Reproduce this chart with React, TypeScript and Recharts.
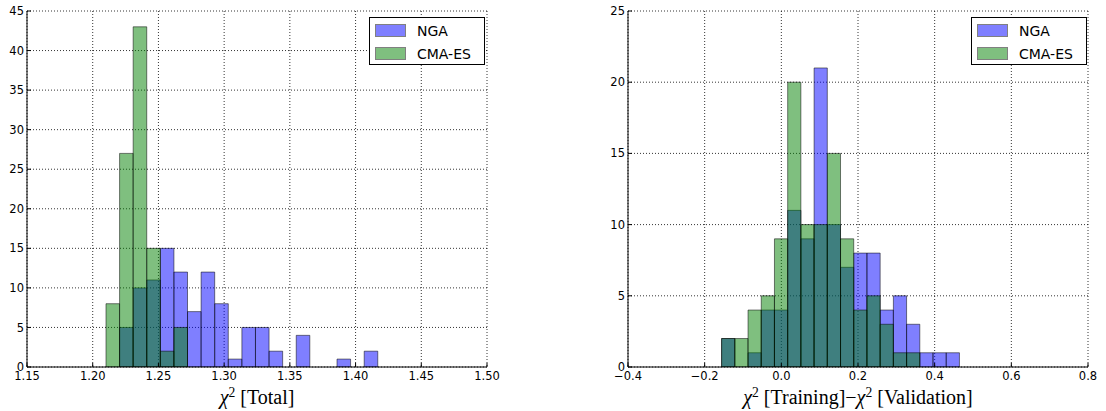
import React from 'react';
import { BarChart, Bar, XAxis, YAxis, CartesianGrid, Label } from 'recharts';

// ---- Left panel: chi^2 [Total] ----
const totalBinStart = 1.2101;
const totalBinWidth = 0.01034;
const totalNGA = [0, 5, 10, 11, 15, 12, 7, 12, 8, 1, 5, 5, 2, 0, 4, 0, 0, 1, 0, 2];
const totalCMA = [8, 27, 43, 15, 2, 5, 0, 0, 0, 0, 0, 0, 0, 0, 0, 0, 0, 0, 0, 0];
const totalXDomain: [number, number] = [1.15, 1.5];
const totalXTicks = [1.15, 1.2, 1.25, 1.3, 1.35, 1.4, 1.45, 1.5];
const totalYTicks = [0, 5, 10, 15, 20, 25, 30, 35, 40, 45];

// ---- Right panel: chi^2 [Training] - chi^2 [Validation] ----
const diffBinStart = -0.1558;
const diffBinWidth = 0.03447;
const diffNGA = [2, 0, 1, 4, 4, 11, 9, 21, 10, 7, 8, 8, 4, 5, 3, 1, 1, 1];
const diffCMA = [2, 2, 4, 5, 9, 20, 10, 10, 15, 9, 4, 5, 3, 1, 1, 0, 0, 0];
const diffXDomain: [number, number] = [-0.4, 0.8];
const diffXTicks = [-0.4, -0.2, 0, 0.2, 0.4, 0.6, 0.8];
const diffYTicks = [0, 5, 10, 15, 20, 25];

const seriesNames = ['NGA', 'CMA-ES'];

const PLOT_W = 460;
const PLOT_TOP = 11;
const CHART_H = 411;
const X_AXIS_H = CHART_H - PLOT_TOP - 356;

const tickFont = { fill: '#000', fontSize: 11.5, fontFamily: 'DejaVu Sans' };
const serif = 'Liberation Serif';

const fmtMinus = (s: string) => s.replace('-', '\u2212');

function buildData(start: number, width: number, a: number[], b: number[]) {
  return a.map((v, i) => ({ x: start + (i + 0.5) * width, nga: v, cma: b[i] }));
}

type TitlePart = { chi?: boolean; text?: string };

function Title({ viewBox, parts, fontSize }: any) {
  const cx = viewBox.x + viewBox.width / 2;
  const y = viewBox.y + 37;
  const kids: any[] = [];
  parts.forEach((p: TitlePart, i: number) => {
    if (p.chi) {
      kids.push(
        <tspan key={i + 'c'} fontStyle="italic">χ</tspan>,
        <tspan key={i + 's'} dy={-7} fontSize={fontSize * 0.68}>2</tspan>,
        <tspan key={i + 'r'} dy={7}>{'\u00a0'}</tspan>
      );
    } else {
      kids.push(<tspan key={i + 't'}>{p.text}</tspan>);
    }
  });
  return (
    <text x={cx} y={y} textAnchor="middle" fontFamily={serif} fontSize={fontSize} fill="#000">
      {kids}
    </text>
  );
}

function LegendBox({ left }: { left: number }) {
  const colors = ['#7f7fff', '#7fbf7f'];
  return (
    <svg
      width={117}
      height={49}
      style={{ position: 'absolute', left, top: 17 }}
    >
      <rect x={0.5} y={0.5} width={115} height={47} fill="#fff" stroke="#000" strokeWidth={1} />
      {seriesNames.map((n, i) => (
        <g key={n}>
          <rect x={6.5} y={7.5 + i * 23} width={30} height={12} fill={colors[i]} stroke="#808080" strokeWidth={1} />
          <text x={48} y={19 + i * 23} fontFamily="DejaVu Sans" fontSize={14} fill="#000">
            {n}
          </text>
        </g>
      ))}
    </svg>
  );
}

function Histogram(props: {
  left: number;
  width: number;
  yAxisW: number;
  binStart: number;
  binWidth: number;
  nga: number[];
  cma: number[];
  xDomain: [number, number];
  xTicks: number[];
  yTicks: number[];
  xFmt: (v: number) => string;
  title: TitlePart[];
  titleSize: number;
  legendLeft: number;
}) {
  const data = buildData(props.binStart, props.binWidth, props.nga, props.cma);
  const barPx = ((PLOT_W * props.binWidth) / (props.xDomain[1] - props.xDomain[0])) * 0.999;
  const yDomain: [number, number] = [0, props.yTicks[props.yTicks.length - 1]];
  const marginRight = props.width - props.yAxisW - PLOT_W;
  return (
    <div style={{ position: 'absolute', left: props.left, top: 0, width: props.width, height: CHART_H }}>
      <BarChart
        width={props.width}
        height={CHART_H}
        data={data}
        margin={{ top: PLOT_TOP, right: marginRight, bottom: 0, left: 0 }}
        barGap={-barPx}
        barCategoryGap={0}
      >
        <XAxis
          dataKey="x"
          type="number"
          domain={props.xDomain}
          ticks={props.xTicks}
          interval={0}
          allowDataOverflow
          height={X_AXIS_H}
          tickSize={-4}
          tickMargin={9}
          tick={tickFont}
          tickFormatter={props.xFmt}
          axisLine={{ stroke: '#000', strokeWidth: 1 }}
          tickLine={{ stroke: '#000', strokeWidth: 1 }}
        >
          <Label content={(p: any) => <Title {...p} parts={props.title} fontSize={props.titleSize} />} />
        </XAxis>
        <XAxis
          xAxisId="top"
          orientation="top"
          type="number"
          domain={props.xDomain}
          ticks={props.xTicks}
          interval={0}
          allowDataOverflow
          height={0}
          tickSize={-4}
          tick={false}
          axisLine={{ stroke: '#000', strokeWidth: 1 }}
          tickLine={{ stroke: '#000', strokeWidth: 1 }}
        />
        <YAxis
          type="number"
          domain={yDomain}
          ticks={props.yTicks}
          interval={0}
          allowDataOverflow
          width={props.yAxisW}
          tickSize={-4}
          tickMargin={7}
          tick={tickFont}
          axisLine={{ stroke: '#000', strokeWidth: 1 }}
          tickLine={{ stroke: '#000', strokeWidth: 1 }}
        />
        <YAxis
          yAxisId="right"
          orientation="right"
          type="number"
          domain={yDomain}
          ticks={props.yTicks}
          interval={0}
          allowDataOverflow
          width={0}
          tickSize={-4}
          tick={false}
          axisLine={{ stroke: '#000', strokeWidth: 1 }}
          tickLine={{ stroke: '#000', strokeWidth: 1 }}
        />
        <Bar
          dataKey="nga"
          name={seriesNames[0]}
          barSize={barPx}
          fill="#0000ff"
          fillOpacity={0.5}
          stroke="#000"
          strokeOpacity={0.5}
          strokeWidth={1}
          isAnimationActive={false}
        />
        <Bar
          dataKey="cma"
          name={seriesNames[1]}
          barSize={barPx}
          fill="#008000"
          fillOpacity={0.5}
          stroke="#000"
          strokeOpacity={0.5}
          strokeWidth={1}
          isAnimationActive={false}
        />
        <CartesianGrid stroke="#000" strokeDasharray="1 2" strokeWidth={0.8} fill="none" />
      </BarChart>
      <LegendBox left={props.legendLeft} />
    </div>
  );
}

export default function App() {
  return (
    <div style={{ position: 'absolute', left: 0, top: 0, width: 1106, height: 411, background: '#fff' }}>
      <Histogram
        left={0}
        width={553}
        yAxisW={27}
        binStart={totalBinStart}
        binWidth={totalBinWidth}
        nga={totalNGA}
        cma={totalCMA}
        xDomain={totalXDomain}
        xTicks={totalXTicks}
        yTicks={totalYTicks}
        xFmt={(v) => v.toFixed(2)}
        title={[{ chi: true }, { text: '[Total]' }]}
        titleSize={20}
        legendLeft={369}
      />
      <Histogram
        left={553}
        width={553}
        yAxisW={75}
        binStart={diffBinStart}
        binWidth={diffBinWidth}
        nga={diffNGA}
        cma={diffCMA}
        xDomain={diffXDomain}
        xTicks={diffXTicks}
        yTicks={diffYTicks}
        xFmt={(v) => fmtMinus(v.toFixed(1))}
        title={[{ chi: true }, { text: '[Training]\u2212' }, { chi: true }, { text: '[Validation]' }]}
        titleSize={20}
        legendLeft={418}
      />
    </div>
  );
}
